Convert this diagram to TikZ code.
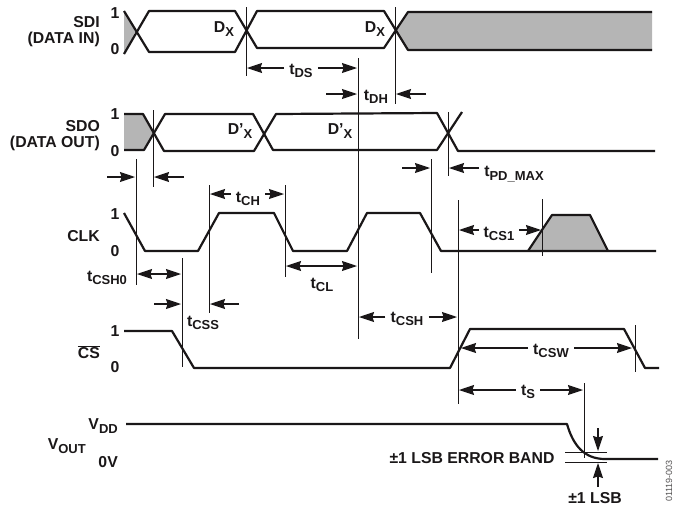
\documentclass[tikz,border=0pt]{standalone}
\usepackage{fontspec}
\setmainfont{Liberation Sans}
\usetikzlibrary{arrows.meta}
\definecolor{ink}{HTML}{1A1718}
\definecolor{shade}{HTML}{B5B5B5}
\newcommand{\lowtext}[1]{\raisebox{-3.4pt}{\fontsize{13}{13}\selectfont #1}}

\begin{document}
\begin{tikzpicture}[x=1pt,y=-1pt,>={Stealth[length=15pt,width=10pt,inset=1.5pt]},
    wave/.style={draw=ink,line width=2.2pt,line join=round},
    band/.style={fill=shade,draw=none},
    guide/.style={draw=ink,line width=1pt},
    dim/.style={->,draw=ink,line width=1.1pt},
    ddim/.style={<->,draw=ink,line width=1.1pt},
    base node/.style={text=ink,font=\bfseries\fontsize{15.8}{16.5}\selectfont,inner sep=0pt},
    real node/.style={base node,inner xsep=5pt},
    name node/.style={base node,align=right,anchor=east}]
  \useasboundingbox (0,0) rectangle (675,512);

  % shaded parts go first
  \fill[band] (124,11) -- (136,30) -- (124,54) -- cycle;
  \fill[band] (395,30) -- (408,12) -- (652,12) -- (652,50) -- (408,50) -- cycle;
  \fill[band] (124,114) -- (143,114) -- (153,133) -- (144,150) -- (124,150) -- cycle;
  \fill[band] (528,251) -- (552,215) -- (590,215) -- (608,251) -- cycle;

  % signal names
  \node[name node] (sdi) at (100,31.5) {SDI\\(DATA IN)};
  \node[name node] (sdo) at (100,135.5) {SDO\\(DATA OUT)};
  \node[name node] (clk) at (100,236) {CLK};
  \node[name node] (cs) at (100,352) {$\overline{\mbox{CS}}$};
  \node[name node] (vdd) at (118,426) {V\lowtext{DD}};
  \node[name node] (vout) at (86,446) {V\lowtext{OUT}};
  \node[name node] (zerov) at (118,462) {0V};

  % levels
  \node[base node] (sdihi) at (115,13) {1};
  \node[base node] (sdilo) at (115,49) {0};
  \node[base node] (sdohi) at (115,114) {1};
  \node[base node] (sdolo) at (115,151) {0};
  \node[base node] (clkhi) at (115,214) {1};
  \node[base node] (clklo) at (115,251) {0};
  \node[base node] (cshi) at (115,331) {1};
  \node[base node] (cslo) at (115,367) {0};

  % data labels
  \node[base node] (dxa) at (224,29) {D\lowtext{X}};
  \node[base node] (dxb) at (375,29) {D\lowtext{X}};
  \node[base node] (dpa) at (240,131) {D'\lowtext{X}};
  \node[base node] (dpb) at (340,131) {D'\lowtext{X}};

  % waveforms
  \draw[wave] (124,11) -- (149,52) -- (235,52) -- (257,11) -- (384,11) -- (408,50) -- (652,50);
  \draw[wave] (124,54) -- (149,11) -- (235,11) -- (257,48) -- (384,48) -- (408,12) -- (652,12);
  \draw[wave] (124,114) -- (143,114) -- (164,151) -- (254,151) -- (276,114) -- (437,113) -- (458,151) -- (655,151);
  \draw[wave] (124,150) -- (144,150) -- (165,114) -- (253,114) -- (273,150) -- (437,150) -- (462,112);
  \draw[wave] (124,213) -- (145,251) -- (198,251) -- (219,213) -- (274,213) -- (293,251) -- (347,251) -- (367,213) -- (420,213) -- (441,251) -- (656,251);
  \draw[wave] (528,251) -- (552,215) -- (590,215) -- (608,251);
  \draw[wave] (124,331) -- (172,331) -- (194,368) -- (450,368) -- (470,329) -- (624,329) -- (645,368) -- (659,368);
  \draw[wave] (126,424) -- (567,424) .. controls (573,445) and (584,459) .. (605,459) -- (658,459);

  % guide lines
  \draw[guide] (246,7) -- (246,76);
  \draw[guide] (395,7) -- (395,104);
  \draw[guide] (358,58) -- (358,339);
  \draw[guide] (153,110) -- (153,187);
  \draw[guide] (136,159) -- (136,285);
  \draw[guide] (448,112) -- (448,176);
  \draw[guide] (431,159) -- (431,273);
  \draw[guide] (209,185) -- (209,313);
  \draw[guide] (285,185) -- (285,277);
  \draw[guide] (458,200) -- (458,404);
  \draw[guide] (182,258) -- (182,367);
  \draw[guide] (542,199) -- (542,256);
  \draw[guide] (635,325) -- (635,372);
  \draw[guide] (584,383) -- (584,458);
  \draw[guide] (565,452) -- (607,452);
  \draw[guide] (565,462) -- (607,462);

  % timing labels
  \node[real node] (tds) at (301,71) {t\lowtext{DS}};
  \node[real node] (tdh) at (376,97) {t\lowtext{DH}};
  \node[real node] (tpd) at (514,174) {t\lowtext{PD\_MAX}};
  \node[real node] (tch) at (248,199) {t\lowtext{CH}};
  \node[real node] (tcsa) at (499,234) {t\lowtext{CS1}};
  \node[real node] (tcsho) at (107,278) {t\lowtext{CSH0}};
  \node[real node] (tcl) at (322,285) {t\lowtext{CL}};
  \node[real node] (tcss) at (203,323) {t\lowtext{CSS}};
  \node[real node] (tcsh) at (407,319) {t\lowtext{CSH}};
  \node[real node] (tcsw) at (551,351) {t\lowtext{CSW}};
  \node[real node] (ts) at (528,392) {t\lowtext{S}};
  \node[base node] (band) at (472,458) {±1 LSB ERROR BAND};
  \node[base node] (lsb) at (595,498) {±1 LSB};
  \node[text=ink!75,font=\fontsize{9}{9}\selectfont,rotate=90,inner sep=0pt] (code) at (669,481) {01119-003};

  % timing arrows
  \draw[dim] (tds.west |- 0,68) -- (247,68);
  \draw[dim] (tds.east |- 0,68) -- (357,68);
  \draw[dim] (326,94) -- (357,94);
  \draw[dim] (426,94) -- (396,94);
  \draw[dim] (107,177) -- (135,177);
  \draw[dim] (184,177) -- (154,177);
  \draw[dim] (402,168) -- (430,168);
  \draw[dim] (tpd.west |- 0,168) -- (449,168);
  \draw[dim] (tch.west |- 0,194) -- (210,194);
  \draw[dim] (tch.east |- 0,194) -- (284,194);
  \draw[dim] (tcsa.west |- 0,230) -- (459,230);
  \draw[dim] (tcsa.east |- 0,230) -- (541,230);
  \draw[ddim] (137,274) -- (181,274);
  \draw[ddim] (286,266) -- (357,266);
  \draw[dim] (154,304) -- (181,304);
  \draw[dim] (239,304) -- (210,304);
  \draw[dim] (tcsh.west |- 0,317) -- (359,317);
  \draw[dim] (tcsh.east |- 0,317) -- (457,317);
  \draw[dim] (tcsw.west |- 0,348) -- (461,348);
  \draw[dim] (tcsw.east |- 0,348) -- (632,348);
  \draw[dim] (ts.west |- 0,390) -- (459,390);
  \draw[dim] (ts.east |- 0,390) -- (583,390);
  \draw[dim] (598,428) -- (598,451);
  \draw[dim] (598,487) -- (598,463);
\end{tikzpicture}
\end{document}
